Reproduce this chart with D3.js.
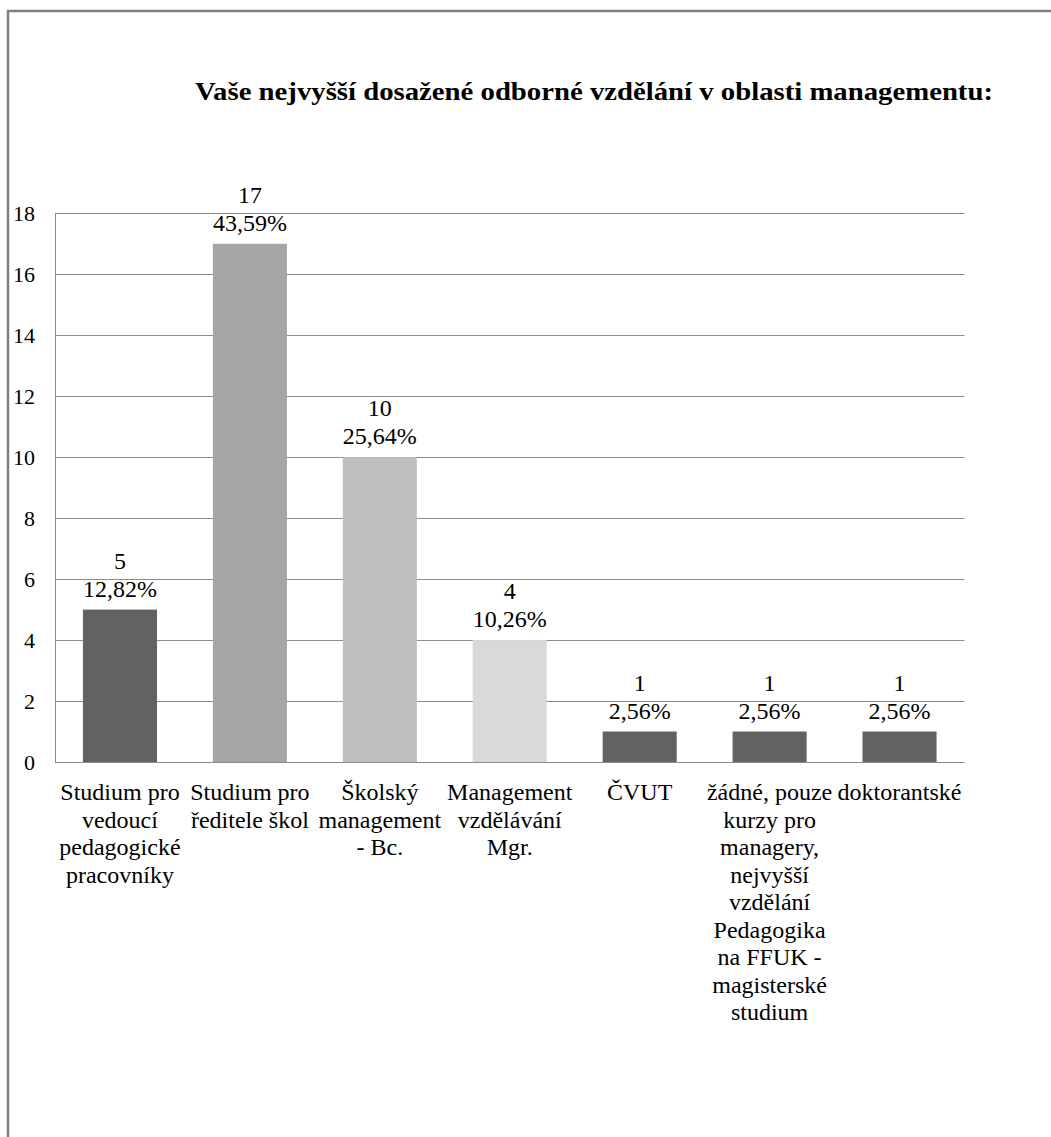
<!DOCTYPE html>
<html>
<head>
<meta charset="utf-8">
<script src="https://cdn.jsdelivr.net/npm/d3@7"></script>
<style>
  html, body { margin: 0; padding: 0; background: #fff; }
  svg { display: block; }
  .tnr, .tnr tspan { font-family: "Times New Roman", "Tinos", "Liberation Serif", serif !important; }
</style>
</head>
<body>
<div id="chart"></div>
<script>
const title = "Vaše nejvyšší dosažené odborné vzdělání v oblasti managementu:";
const categories = [
  ["Studium pro", "vedoucí", "pedagogické", "pracovníky"],
  ["Studium pro", "ředitele škol"],
  ["Školský", "management", "- Bc."],
  ["Management", "vzdělávání", "Mgr."],
  ["ČVUT"],
  ["žádné, pouze", "kurzy pro", "managery,", "nejvyšší", "vzdělání", "Pedagogika", "na FFUK -", "magisterské", "studium"],
  ["doktorantské"]
];
const values = [5, 17, 10, 4, 1, 1, 1];
const percentLabels = ["12,82%", "43,59%", "25,64%", "10,26%", "2,56%", "2,56%", "2,56%"];
const barColors = ["#626262", "#a6a6a6", "#bfbfbf", "#d9d9d9", "#626262", "#626262", "#626262"];
const yTicks = [0, 2, 4, 6, 8, 10, 12, 14, 16, 18];

const W = 1051, H = 1137;
const plot = { left: 55, right: 964.5, top: 213.3, bottom: 762 };

const svg = d3.select("#chart").append("svg")
  .attr("width", W).attr("height", H);

// outer frame
svg.append("rect")
  .attr("x", 8).attr("y", 11)
  .attr("width", W + 20).attr("height", H + 20)
  .attr("fill", "#fff").attr("stroke", "#808080").attr("stroke-width", 2.5);

// title
svg.append("text").attr("class", "tnr")
  .attr("x", 195).attr("y", 100)
  .attr("font-size", 26).attr("font-weight", "bold")
  .attr("textLength", 798).attr("lengthAdjust", "spacingAndGlyphs")
  .text(title);

const idx = categories.map((d, i) => i);
const x = d3.scaleBand().domain(idx).range([plot.left, plot.right])
  .paddingInner(0.43).paddingOuter(0.215);
const y = d3.scaleLinear().domain([0, 18]).range([plot.bottom, plot.top]);

// gridlines
svg.append("g").selectAll("line").data(yTicks).join("line")
  .attr("x1", plot.left).attr("x2", plot.right)
  .attr("y1", d => Math.round(y(d)) + 0.5).attr("y2", d => Math.round(y(d)) + 0.5)
  .attr("stroke", "#8c8c8c").attr("stroke-width", 1);

// y axis
const yAxis = d3.axisLeft(y).tickValues(yTicks).tickSize(0).tickPadding(20);
const gy = svg.append("g").attr("transform", `translate(${plot.left},0)`).call(yAxis);
gy.attr("font-family", null);
gy.select(".domain").attr("stroke", "#8c8c8c");
gy.selectAll(".tick text").attr("class", "tnr")
  .attr("font-size", 22).attr("fill", "#000")
  .attr("text-anchor", "end").attr("x", 35 - plot.left).attr("dy", "0.33em");
gy.selectAll(".tick line").remove();

// bars
svg.append("g").selectAll("rect").data(values).join("rect")
  .attr("x", (d, i) => x(i)).attr("width", x.bandwidth())
  .attr("y", d => y(d)).attr("height", d => y(0) - y(d))
  .attr("fill", (d, i) => barColors[i]);

// bottom axis line
svg.append("line")
  .attr("x1", plot.left).attr("x2", plot.right)
  .attr("y1", Math.round(y(0)) + 0.5).attr("y2", Math.round(y(0)) + 0.5)
  .attr("stroke", "#8c8c8c");

// data labels
const lbl = svg.append("g").selectAll("g").data(values).join("g");
lbl.append("text").attr("class", "tnr")
  .attr("x", (d, i) => x(i) + x.bandwidth() / 2)
  .attr("y", d => y(d) - 41)
  .attr("text-anchor", "middle").attr("font-size", 24)
  .text(d => d);
lbl.append("text").attr("class", "tnr")
  .attr("x", (d, i) => x(i) + x.bandwidth() / 2)
  .attr("y", d => y(d) - 13)
  .attr("text-anchor", "middle").attr("font-size", 24)
  .text((d, i) => percentLabels[i]);

// category labels
const cat = svg.append("g").selectAll("text").data(categories).join("text")
  .attr("class", "tnr")
  .attr("text-anchor", "middle").attr("font-size", 24)
  .attr("x", (d, i) => x(i) + x.bandwidth() / 2)
  .attr("y", 800);
cat.selectAll("tspan").data(d => d).join("tspan")
  .attr("x", function() { return d3.select(this.parentNode).attr("x"); })
  .attr("dy", (d, j) => j === 0 ? 0 : 27.5)
  .text(d => d);
</script>
</body>
</html>
